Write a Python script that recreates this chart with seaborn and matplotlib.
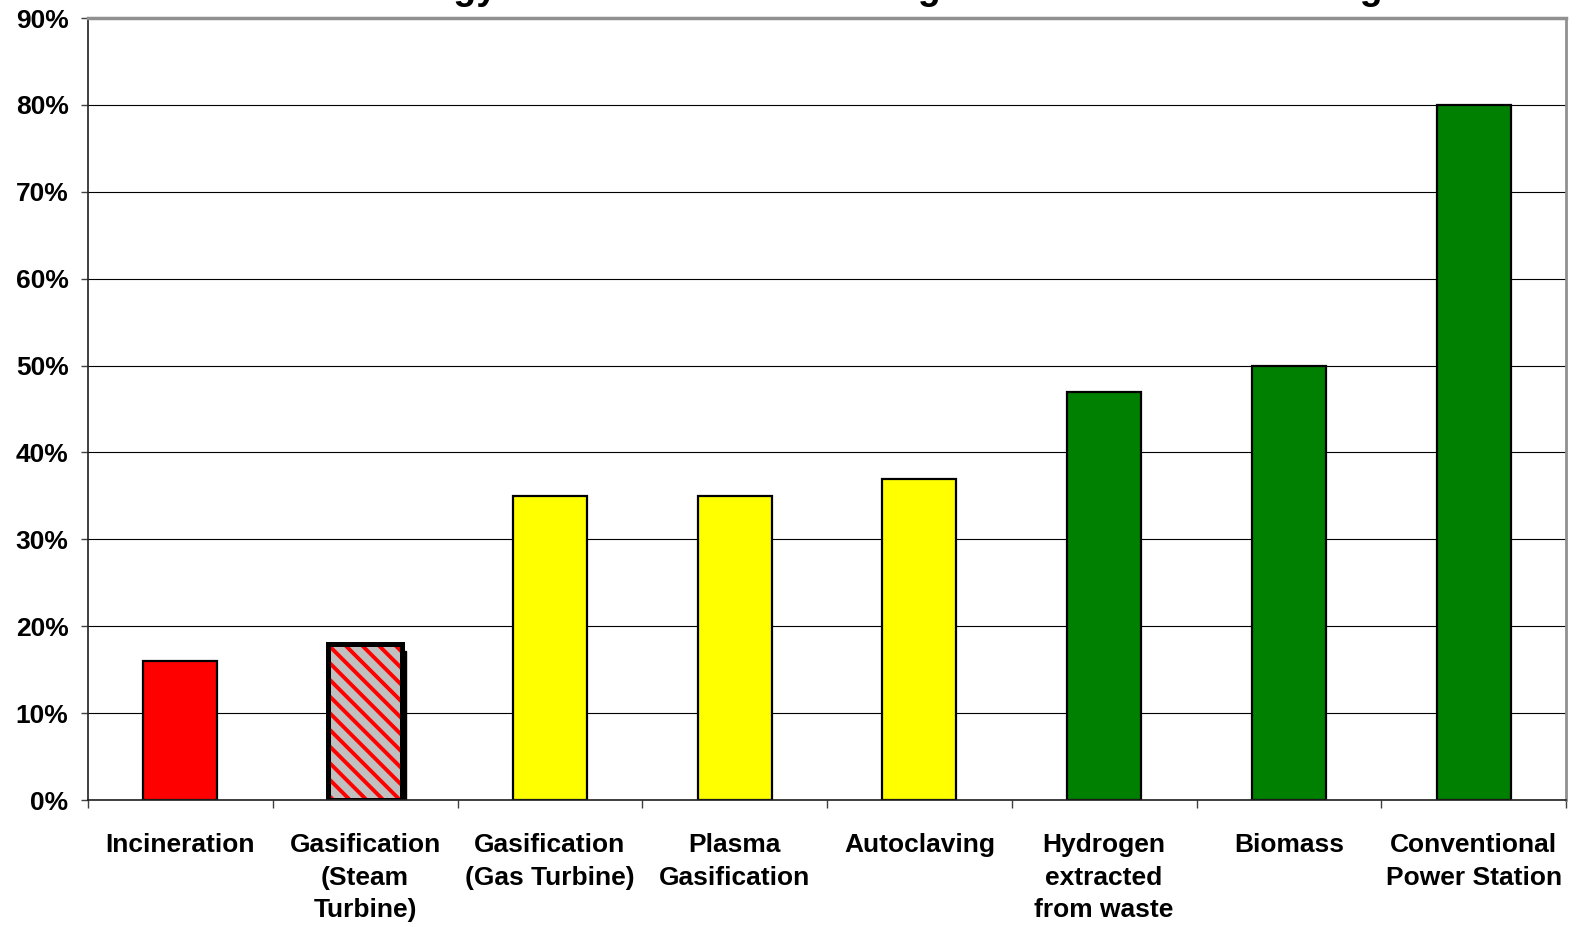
import matplotlib
matplotlib.use("Agg")
import matplotlib.pyplot as plt
import matplotlib.transforms as mtransforms
from matplotlib.patches import Rectangle
from matplotlib.ticker import PercentFormatter, FixedLocator
import pandas as pd
import seaborn as sns

# dados
tecnologias = [
    "Incineration",
    "Gasification\n(Steam\nTurbine)",
    "Gasification\n(Gas Turbine)",
    "Plasma\nGasification",
    "Autoclaving",
    "Hydrogen\nextracted\nfrom waste",
    "Biomass",
    "Conventional\nPower Station",
]
eficiencia = [0.16, 0.18, 0.35, 0.35, 0.37, 0.47, 0.50, 0.80]
cores = ["#FF0000", "#C0C0C0", "#FFFF00", "#FFFF00", "#FFFF00",
         "#008000", "#008000", "#008000"]
yticks = [0.0, 0.1, 0.2, 0.3, 0.4, 0.5, 0.6, 0.7, 0.8, 0.9]
titulo = "Energy Conversion Rates Using Waste-Based Technologies"

df = pd.DataFrame({"tecnologia": tecnologias, "eficiencia": eficiencia})

sns.set_theme(style="white")
plt.rcParams["font.family"] = ["Liberation Sans", "DejaVu Sans"]
plt.rcParams["font.weight"] = "bold"
plt.rcParams["hatch.linewidth"] = 2.8

fig = plt.figure(figsize=(15.76, 9.27), dpi=100)
ax = fig.add_axes([88 / 1576, 1 - 800 / 927, (1566 - 88) / 1576, (800 - 18) / 927])

sns.barplot(data=df, x="tecnologia", y="eficiencia", hue="tecnologia",
            palette=dict(zip(tecnologias, cores)), legend=False,
            width=0.4, edgecolor="black", linewidth=1.6, saturation=1, ax=ax)

# barra hachurada (Gasification - Steam Turbine) com sombra
barra = ax.patches[1]
barra.set_edgecolor("#FF0000")
barra.set_hatch("\\\\")
barra.set_linewidth(0)
x0, y0 = barra.get_xy()
w, h = barra.get_width(), barra.get_height()
sombra_tr = ax.transData + mtransforms.ScaledTranslation(4 / 100, -7 / 100, fig.dpi_scale_trans)
ax.add_patch(Rectangle((x0, y0), w, h, facecolor="black", edgecolor="black",
                       transform=sombra_tr, zorder=barra.get_zorder() - 0.1))
ax.add_patch(Rectangle((x0, y0), w, h, fill=False, edgecolor="black",
                       linewidth=3.6, zorder=barra.get_zorder() + 0.1))

ax.set_ylim(0, 0.9)
ax.set_xlim(-0.5, len(tecnologias) - 0.5)
ax.set_yticks(yticks)
ax.yaxis.set_major_formatter(PercentFormatter(1.0, decimals=0))
ax.xaxis.set_minor_locator(FixedLocator([i - 0.5 for i in range(len(tecnologias) + 1)]))

ax.yaxis.grid(True, color="black", linewidth=0.8)
ax.set_axisbelow(True)

ax.tick_params(axis="y", which="major", left=True, length=5, width=1, color="#404040",
               pad=9, labelsize=19, labelcolor="black")
ax.tick_params(axis="x", which="major", bottom=False, length=0, pad=24,
               labelsize=19, labelcolor="black")
ax.tick_params(axis="x", which="minor", bottom=True, length=6, width=1, color="#404040")
for lbl in ax.get_xticklabels() + ax.get_yticklabels():
    lbl.set_fontweight("bold")
for lbl in ax.get_xticklabels():
    lbl.set_linespacing(1.45)

for lado in ["left", "bottom"]:
    ax.spines[lado].set_color("#202020")
    ax.spines[lado].set_linewidth(1.2)
ax.spines["top"].set_color("#909090")
ax.spines["top"].set_linewidth(2.5)
ax.spines["right"].set_color("#909090")
ax.spines["right"].set_linewidth(2)

ax.set_xlabel("")
ax.set_ylabel("")

# título cortado no topo da imagem, como na referência
fig.text(370 / 1576, 1 + 1.5 / 927, titulo, ha="left", va="baseline",
         fontsize=27, fontweight="bold", color="black")

fig.savefig("out.png", dpi=100)
